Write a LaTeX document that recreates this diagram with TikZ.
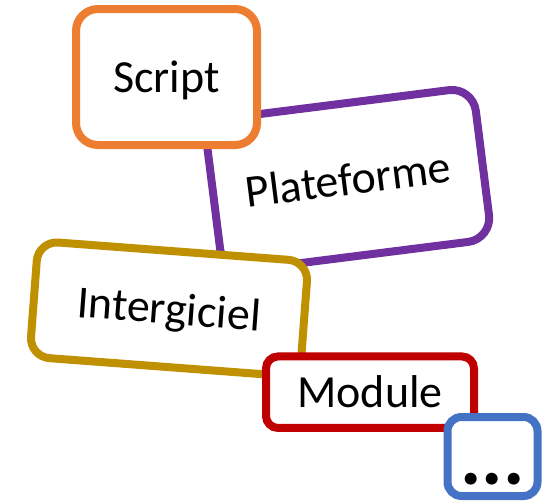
\documentclass[tikz,border=0pt]{standalone}
\usepackage{fontspec}
\setmainfont{Carlito}
\usetikzlibrary{positioning}
\definecolor{orangeoff}{HTML}{ED7D31}
\definecolor{purpleoff}{HTML}{7030A0}
\definecolor{goldoff}{HTML}{BF9000}
\definecolor{redoff}{HTML}{C00000}
\definecolor{blueoff}{HTML}{4472C4}
\tikzset{
  block/.style     = { rectangle, draw, line width=8pt, fill=white, inner sep=0pt,
                       font=\fontsize{46}{50}\selectfont, text height=30pt, text depth=0pt },
  script/.style    = { block, draw=orangeoff, minimum width=181pt, minimum height=136pt, rounded corners=22pt },
  platform/.style  = { block, draw=purpleoff, minimum width=271pt, minimum height=153pt, rounded corners=24pt },
  middleware/.style= { block, draw=goldoff,   minimum width=271pt, minimum height=116pt, rounded corners=20pt },
  module/.style    = { block, draw=redoff,    minimum width=208pt, minimum height=71.5pt, rounded corners=12pt },
  etc/.style       = { block, draw=blueoff,   minimum width=90pt,  minimum height=79pt,  rounded corners=14pt },
  dotstext/.style  = { font=\fontsize{80}{80}\selectfont\bfseries, inner sep=0pt, anchor=base }
}

\begin{document}
\begin{tikzpicture}[x=1pt,y=-1pt]
  \useasboundingbox (0,0) rectangle (552,501);

  \node (plat)  [platform,rotate=7.2]    at (348,180)   {Plateforme};
  \node (scr)   [script]                 at (166.5,77)  {Script};
  \node (inter) [middleware,rotate=-4.3] at (169,309)   {Intergiciel};
  \node (mod)   [module]                 at (370,392.2) {Module};
  \node (more)  [etc]                    at (492.5,456.5) {};
  \node (dots)  [dotstext] at ([yshift=16pt]more.south) {...};

\end{tikzpicture}
\end{document}
